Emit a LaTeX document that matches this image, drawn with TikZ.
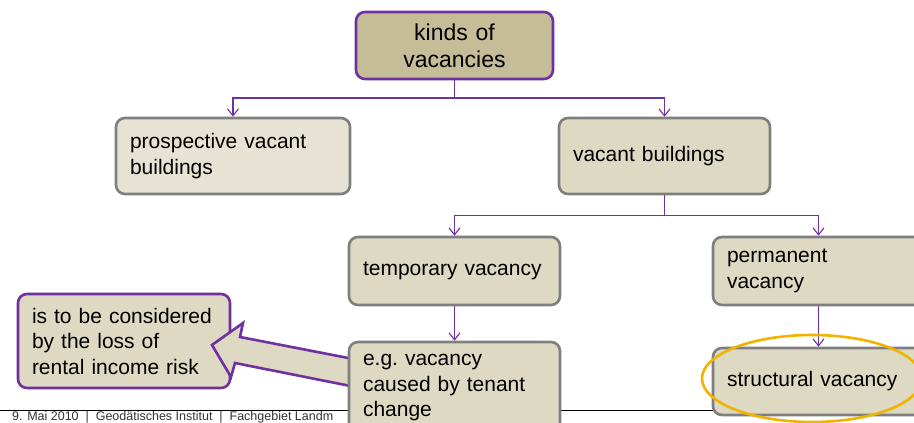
\documentclass[tikz,border=0pt]{standalone}
\usepackage{fontspec}
\setmainfont{Liberation Sans}
\usetikzlibrary{arrows.meta}
\definecolor{vpurple}{HTML}{7030A0}
\definecolor{vgray}{HTML}{7F7F7F}
\definecolor{vtan}{HTML}{DDD9C3}
\definecolor{vtandark}{HTML}{C4BD97}
\definecolor{vtanlight}{HTML}{E6E2D4}
\definecolor{vgold}{HTML}{F0B400}
\definecolor{vfoot}{HTML}{333333}
\tikzset{
  box/.style={draw=vgray, fill=vtan, line width=2.6pt, rounded corners=9pt,
    inner sep=0pt, align=left, font=\fontsize{21}{25.5}\selectfont},
  topbox/.style={box, draw=vpurple, fill=vtandark, align=center,
    font=\fontsize{23}{27}\selectfont},
  notebox/.style={box, draw=vpurple},
  conn/.style={draw=vpurple, line width=1.2pt,
    -{Straight Barb[length=7pt,width=11pt,line width=1.1pt]}},
  blockarrow/.style={draw=vpurple, fill=vtan, line width=2.6pt, line join=miter},
  goldring/.style={draw=vgold, line width=2.6pt},
}
\begin{document}
\begin{tikzpicture}[x=1pt,y=-1pt]
\useasboundingbox (0,0) rectangle (914,423);
\fill[white] (0,0) rectangle (914,423);

% footer
\draw[black, line width=1pt] (0,410) -- (914,410);
\node[anchor=base west, inner sep=0pt, text=vfoot, font=\fontsize{12.5}{15}\selectfont]
  (foot) at (12,420) {9. Mai 2010 \ |\ \ Geodätisches Institut \ |\ \ Fachgebiet Landm};

% nodes
\node[topbox, minimum width=197pt, minimum height=67pt, text width=170pt]
  (top) at (454.5,45.5) {kinds of\\vacancies};
\node[box, fill=vtanlight, minimum width=234pt, minimum height=76pt, text width=206pt]
  (prosp) at (233,156) {prospective vacant\\buildings};
\node[box, minimum width=211pt, minimum height=76pt, text width=183pt]
  (vac) at (664.5,156) {vacant buildings};
\node[box, minimum width=211pt, minimum height=68pt, text width=183pt]
  (temp) at (454.5,271) {temporary vacancy};
\node[box, minimum width=211pt, minimum height=68pt, text width=183pt]
  (perm) at (818.5,271) {permanent\\vacancy};
\node[box, minimum width=211pt, minimum height=67pt, text width=183pt]
  (struct) at (818.5,381.5) {structural vacancy};
\node[notebox, minimum width=212pt, minimum height=94pt, text width=184pt]
  (note) at (124,341) {is to be considered\\by the loss of\\rental income risk};

% block arrow (drawn under the e.g. box)
\draw[blockarrow] (212,345) -- (243,323) -- (240,337) -- (356,359.5)
  -- (353,386.5) -- (235,363) -- (231,377) -- cycle;

\node[box, minimum width=211pt, minimum height=92pt, text width=183pt]
  (eg) at (454.5,388) {e.g.\ vacancy\\caused by tenant\\change};

% connectors
\coordinate (j1) at (454.5,98);
\coordinate (j2) at (664.5,215.5);
\draw[conn] (top.south) -- (j1) -| (prosp.north);
\draw[conn] (j1) -| (vac.north);
\draw[conn] (vac.south) -- (j2) -| (temp.north);
\draw[conn] (j2) -| (perm.north);
\draw[conn] (temp.south) -- (eg.north);
\draw[conn] (perm.south) -- (struct.north);

% highlight ring
\draw[goldring] (812,378.5) ellipse [x radius=110, y radius=43.5];
\end{tikzpicture}
\end{document}
